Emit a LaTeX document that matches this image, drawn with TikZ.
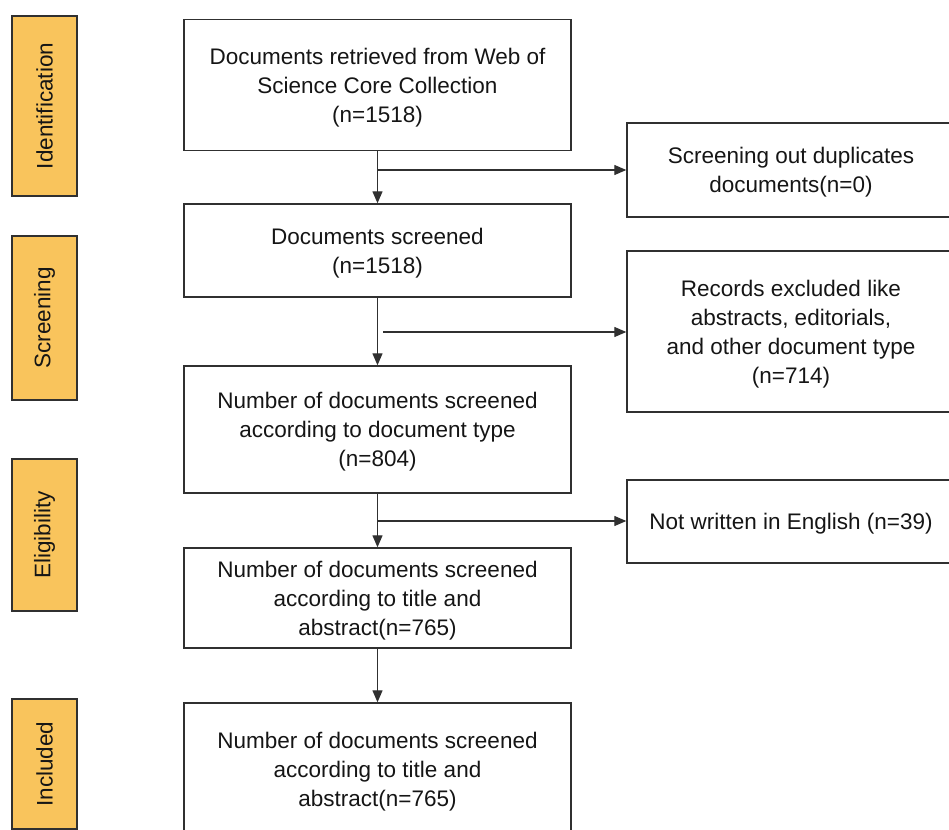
\documentclass[tikz,border=0pt]{standalone}
\usepackage{fontspec}
\setmainfont{Liberation Sans}
\usetikzlibrary{arrows.meta}
\definecolor{stagefill}{HTML}{F9C45C}
\definecolor{lineclr}{HTML}{303030}
\definecolor{txtclr}{HTML}{151515}

\begin{document}
\begin{tikzpicture}[x=1pt, y=-1pt,
    base/.style={draw=lineclr, line width=1.4pt, rectangle, inner sep=0pt,
      align=center, text=txtclr, font=\fontsize{22.5}{29}\selectfont},
    box/.style={base, text depth=-8pt},
    stagebox/.style={base, fill=stagefill, minimum height=65pt, rotate=90},
    arr/.style={-{Triangle[length=12pt, width=10pt]}, line width=1.3pt, draw=lineclr}]
  \useasboundingbox (0,0) rectangle (949,829);

  % 阶段标签
  \node[stagebox, minimum width=180pt] (ident) at (44.5,106) {Identification};
  \node[stagebox, minimum width=164pt] (screen) at (44.5,318) {Screening};
  \node[stagebox, minimum width=152pt] (elig) at (44.5,535) {Eligibility};
  \node[stagebox, minimum width=130pt] (incl) at (44.5,764) {Included};

  % 主流程
  \node[box, minimum width=387pt, minimum height=131pt] (retrieved) at (377.5,85)
    {Documents retrieved from Web of\\Science Core Collection\\(n=1518)};
  \node[box, minimum width=387pt, minimum height=93pt] (screened) at (377.5,250.5)
    {Documents screened\\(n=1518)};
  \node[box, minimum width=387pt, minimum height=127pt] (bytype) at (377.5,429.5)
    {Number of documents screened\\according to document type\\(n=804)};
  \node[box, minimum width=387pt, minimum height=100pt] (bytitle) at (377.5,598)
    {Number of documents screened\\according to title and\\abstract(n=765)};
  \node[box, minimum width=387pt, minimum height=132pt] (included) at (377.5,769)
    {Number of documents screened\\according to title and\\abstract(n=765)};

  % 排除记录
  \node[box, minimum width=328pt, minimum height=94pt] (dup) at (791,170)
    {Screening out duplicates\\documents(n=0)};
  \node[box, minimum width=328pt, minimum height=161pt] (excl) at (791,331.5)
    {Records excluded like\\abstracts, editorials,\\and other document type\\(n=714)};
  \node[box, minimum width=328pt, minimum height=83pt] (lang) at (791,521.5)
    {Not written in English (n=39)};

  % 连线
  \draw[arr] (retrieved) -- (screened);
  \draw[arr] (screened) -- (bytype);
  \draw[arr] (bytype) -- (bytitle);
  \draw[arr] (bytitle) -- (included);
  \coordinate (j1) at (377.5,170);
  \coordinate (j2) at (383,332);
  \coordinate (j3) at (377.5,521);
  \draw[arr] (j1) -- (j1 -| dup.west);
  \draw[arr] (j2) -- (j2 -| excl.west);
  \draw[arr] (j3) -- (j3 -| lang.west);
\end{tikzpicture}
\end{document}
